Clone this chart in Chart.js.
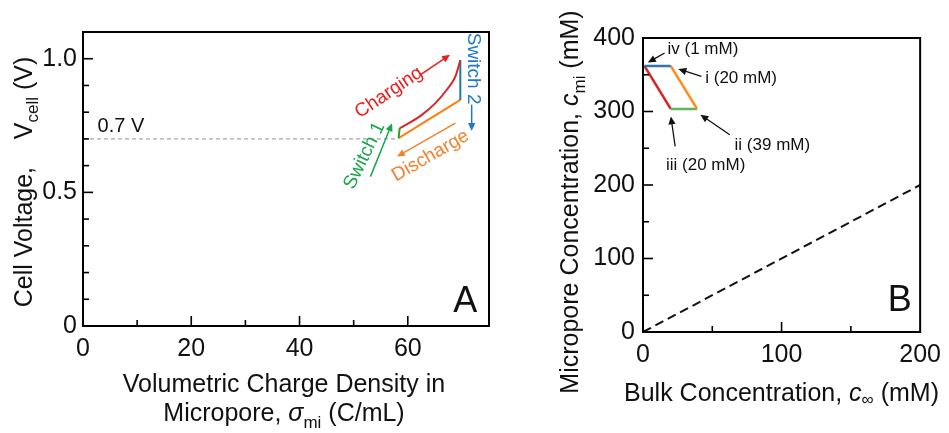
<!DOCTYPE html>
<html>
<head>
<meta charset="utf-8">
<script src="https://cdn.jsdelivr.net/npm/chart.js@4"></script>
<style>
    body { margin: 0; background: #fff; width: 949px; height: 433px; overflow: hidden; position: relative; }
    canvas { position: absolute; top: 0; }
    #chartA { left: 0; }
    #chartB { left: 500px; }
</style>
</head>
<body>
<canvas id="chartA" width="500" height="433"></canvas>
<canvas id="chartB" width="449" height="433"></canvas>
<script>
// Painel A - tensão x densidade de carga
const refLineX = [0, 58.3];
const refLineY = [0.7, 0.7];
const switch1X = [58.3, 58.5];
const switch1Y = [0.703, 0.740];
const chargeX = [58.5, 60.2, 62.6, 65.1, 67.2, 68.8, 69.7];
const chargeY = [0.740, 0.759, 0.790, 0.834, 0.884, 0.934, 0.994];
const switch2X = [69.7, 69.7];
const switch2Y = [0.994, 0.846];
const dischargeX = [69.7, 58.3];
const dischargeY = [0.846, 0.703];

// Painel B - concentração no microporo x concentração bulk
const stepIvX = [1, 20];      // iv -> i
const stepIvY = [362, 362];
const stepIX = [20, 39];      // i -> ii
const stepIY = [362, 303.5];
const stepIiX = [39, 20];     // ii -> iii
const stepIiY = [303.5, 303.5];
const stepIiiX = [20, 1];     // iii -> iv
const stepIiiY = [303.5, 362];
const diagX = [0, 200];
const diagY = [0, 200];

const FONT = "'Liberation Sans', Arial, sans-serif";
Chart.defaults.font.family = FONT;
Chart.defaults.color = '#111';

const pts = (xs, ys) => xs.map((x, i) => ({ x: x, y: ys[i] }));

function linha(data, color, width, extra) {
    return Object.assign({
        data: data,
        showLine: true,
        borderColor: color,
        borderWidth: width,
        pointRadius: 0,
        fill: false
    }, extra || {});
}

function seta(ctx, x1, y1, x2, y2, color, w, head) {
    const a = Math.atan2(y2 - y1, x2 - x1);
    ctx.strokeStyle = color;
    ctx.fillStyle = color;
    ctx.lineWidth = w;
    ctx.beginPath();
    ctx.moveTo(x1, y1);
    ctx.lineTo(x2 - Math.cos(a) * head * 0.8, y2 - Math.sin(a) * head * 0.8);
    ctx.stroke();
    ctx.beginPath();
    ctx.moveTo(x2, y2);
    ctx.lineTo(x2 - head * Math.cos(a) + head * 0.45 * Math.sin(a), y2 - head * Math.sin(a) - head * 0.45 * Math.cos(a));
    ctx.lineTo(x2 - head * Math.cos(a) - head * 0.45 * Math.sin(a), y2 - head * Math.sin(a) + head * 0.45 * Math.cos(a));
    ctx.closePath();
    ctx.fill();
}

// texto com partes (itálico, subscrito)
function textoRico(ctx, parts, x, y, align) {
    let w = 0;
    parts.forEach(p => { ctx.font = p[1]; w += ctx.measureText(p[0]).width; });
    let cx = align === 'center' ? x - w / 2 : x;
    ctx.textAlign = 'left';
    ctx.textBaseline = 'alphabetic';
    parts.forEach(p => {
        ctx.font = p[1];
        ctx.fillText(p[0], cx, y + (p[2] || 0));
        cx += ctx.measureText(p[0]).width;
    });
}

// moldura e ticks para dentro
function moldura(chart, major, minor) {
    const { ctx, chartArea, scales } = chart;
    ctx.save();
    ctx.strokeStyle = '#000';
    ctx.lineWidth = 1.6;
    scales.x.ticks.forEach(t => {
        if (t.value <= scales.x.min || t.value >= scales.x.max) return;
        const px = scales.x.getPixelForValue(t.value);
        const len = t.label ? major : minor;
        ctx.beginPath();
        ctx.moveTo(px, chartArea.bottom);
        ctx.lineTo(px, chartArea.bottom - len);
        ctx.stroke();
    });
    scales.y.ticks.forEach(t => {
        if (t.value <= scales.y.min || t.value >= scales.y.max) return;
        const py = scales.y.getPixelForValue(t.value);
        const len = t.label ? major : minor;
        ctx.beginPath();
        ctx.moveTo(chartArea.left, py);
        ctx.lineTo(chartArea.left + len, py);
        ctx.stroke();
    });
    ctx.lineWidth = 2;
    ctx.strokeRect(chartArea.left, chartArea.top, chartArea.right - chartArea.left, chartArea.bottom - chartArea.top);
    ctx.restore();
}

function textoGirado(ctx, txt, x, y, ang, color, size) {
    ctx.save();
    ctx.translate(x, y);
    ctx.rotate(ang * Math.PI / 180);
    ctx.fillStyle = color;
    ctx.font = size + 'px ' + FONT;
    ctx.textAlign = 'center';
    ctx.textBaseline = 'middle';
    ctx.fillText(txt, 0, 0);
    ctx.restore();
}

// anotações em coordenadas de dados
const notasA = [
    { txt: 'Charging', x: 56.5, y: 0.873, ang: -34, color: '#ee1c1c', arrow: [62.3, 0.94, 67.8, 1.015] },
    { txt: 'Switch 1', x: 52.0, y: 0.637, ang: -64, color: '#1aa64a', arrow: [53.1, 0.559, 57.1, 0.759] },
    { txt: 'Switch 2', x: 72.1, y: 0.963, ang: 90, color: '#1f78c8', arrow: [71.8, 0.828, 71.8, 0.730] },
    { txt: 'Discharge', x: 64.2, y: 0.637, ang: -30, color: '#f0822e', arrow: [68.8, 0.759, 58.0, 0.634] }
];

const notasB = [
    { txt: 'iv (1 mM)', x: 17.7, y: 385, arrow: [15.6, 379.6, 3.5, 366.7] },
    { txt: 'i (20 mM)', x: 44.9, y: 344.6, arrow: [42.1, 347.8, 25.5, 357.8] },
    { txt: 'ii (39 mM)', x: 66.1, y: 253.9, arrow: [62.6, 268.4, 41.4, 295.6] },
    { txt: 'iii (20 mM)', x: 16.6, y: 226.7, arrow: [23.2, 252.5, 20.1, 293.3] }
];

const pluginA = {
    id: 'decorA',
    afterDraw(chart) {
        const { ctx, scales } = chart;
        const sx = v => scales.x.getPixelForValue(v);
        const sy = v => scales.y.getPixelForValue(v);
        moldura(chart, 10, 6);
        ctx.save();
        ctx.fillStyle = '#111';
        ctx.font = '20px ' + FONT;
        ctx.textAlign = 'left';
        ctx.textBaseline = 'middle';
        ctx.fillText('0.7 V', sx(2.7), sy(0.745));
        notasA.forEach(n => {
            textoGirado(ctx, n.txt, sx(n.x), sy(n.y), n.ang, n.color, 19);
            const a = n.arrow;
            seta(ctx, sx(a[0]), sy(a[1]), sx(a[2]), sy(a[3]), n.color, 1.5, 8);
        });
        ctx.fillStyle = '#111';
        ctx.font = '36px ' + FONT;
        ctx.textAlign = 'center';
        ctx.textBaseline = 'middle';
        ctx.fillText('A', sx(70.6), sy(0.09));

        // títulos dos eixos
        const f = '25px ' + FONT;
        const fi = 'italic 25px ' + FONT;
        const fs = '17px ' + FONT;
        ctx.fillStyle = '#111';
        textoRico(ctx, [['Volumetric Charge Density in', f]], 284, 392, 'center');
        textoRico(ctx, [['Micropore, ', f], ['\u03c3', fi], ['mi', fs, 7], [' (C/mL)', f]], 284, 421, 'center');
        ctx.save();
        ctx.translate(32, 182);
        ctx.rotate(-Math.PI / 2);
        textoRico(ctx, [['Cell Voltage,    V', f], ['cell', fs, 6], [' (V)', f]], 0, 0, 'center');
        ctx.restore();
        ctx.restore();
    }
};

const pluginB = {
    id: 'decorB',
    afterDraw(chart) {
        const { ctx, scales } = chart;
        const sx = v => scales.x.getPixelForValue(v);
        const sy = v => scales.y.getPixelForValue(v);
        moldura(chart, 10, 6);
        ctx.save();
        notasB.forEach(n => {
            ctx.fillStyle = '#111';
            ctx.font = '17px ' + FONT;
            ctx.textAlign = 'left';
            ctx.textBaseline = 'middle';
            ctx.fillText(n.txt, sx(n.x), sy(n.y));
            const a = n.arrow;
            seta(ctx, sx(a[0]), sy(a[1]), sx(a[2]), sy(a[3]), '#111', 1.3, 8);
        });
        ctx.fillStyle = '#111';
        ctx.font = '36px ' + FONT;
        ctx.textAlign = 'center';
        ctx.textBaseline = 'middle';
        ctx.fillText('B', sx(185.3), sy(41.6));

        const f = '25px ' + FONT;
        const fi = 'italic 25px ' + FONT;
        const fs = '17px ' + FONT;
        ctx.fillStyle = '#111';
        textoRico(ctx, [['Bulk Concentration, ', f], ['c', fi], ['\u221e', fs, 4], [' (mM)', f]], 124, 401, 'left');
        ctx.save();
        ctx.translate(78, 202);
        ctx.rotate(-Math.PI / 2);
        textoRico(ctx, [['Micropore Concentration, ', f], ['c', fi], ['mi', fs, 7], [' (mM)', f]], 0, 0, 'center');
        ctx.restore();
        ctx.restore();
    }
};

function eixo(min, max, step, cb, padding, fit) {
    return {
        type: 'linear',
        min: min,
        max: max,
        grid: { display: false, drawTicks: false },
        border: { display: false },
        ticks: {
            stepSize: step,
            autoSkip: false,
            maxRotation: 0,
            padding: padding,
            color: '#111',
            font: { size: 25 },
            callback: cb
        },
        afterFit: fit
    };
}

document.addEventListener('DOMContentLoaded', function() {
    new Chart(document.getElementById('chartA'), {
        type: 'scatter',
        data: {
            datasets: [
                linha(pts(refLineX, refLineY), '#a8a8a8', 1.2, { borderDash: [4, 3] }),
                linha(pts(switch1X, switch1Y), '#2ca02c', 2),
                linha(pts(chargeX, chargeY), '#d62728', 2, { cubicInterpolationMode: 'monotone' }),
                linha(pts(switch2X, switch2Y), '#1f77b4', 2),
                linha(pts(dischargeX, dischargeY), '#ff7f0e', 2)
            ]
        },
        options: {
            responsive: false,
            animation: false,
            layout: { padding: { left: 0, right: 11, top: 32, bottom: 0 } },
            plugins: { legend: { display: false }, tooltip: { enabled: false } },
            scales: {
                x: eixo(0, 75, 10, v => (Math.round(v) % 20 === 0 && v < 75) ? String(v) : '', 8, s => { s.height = 107; }),
                y: eixo(0, 1.1, 0.1, v => {
                    const r = Math.round(v * 10) / 10;
                    if (r === 0) return '0';
                    if (r === 0.5) return '0.5';
                    if (r === 1) return '1.0';
                    return '';
                }, 6, s => { s.width = 83; })
            }
        },
        plugins: [pluginA]
    });

    new Chart(document.getElementById('chartB'), {
        type: 'scatter',
        data: {
            datasets: [
                linha(pts(diagX, diagY), '#111', 2, { borderDash: [9, 5] }),
                linha(pts(stepIvX, stepIvY), '#2e75b6', 2.5),
                linha(pts(stepIX, stepIY), '#ff8c1a', 2.5),
                linha(pts(stepIiX, stepIiY), '#5cb85c', 2.5),
                linha(pts(stepIiiX, stepIiiY), '#e02020', 2.5)
            ]
        },
        options: {
            responsive: false,
            animation: false,
            layout: { padding: { left: 0, right: 23, top: 38, bottom: 0 } },
            plugins: { legend: { display: false }, tooltip: { enabled: false } },
            scales: {
                x: eixo(0, 200, 50, v => v % 100 === 0 ? String(v) : '', 8, s => { s.height = 101; }),
                y: eixo(0, 400, 50, v => v % 100 === 0 ? String(v) : '', 8, s => { s.width = 143; })
            }
        },
        plugins: [pluginB]
    });
});
</script>
</body>
</html>
